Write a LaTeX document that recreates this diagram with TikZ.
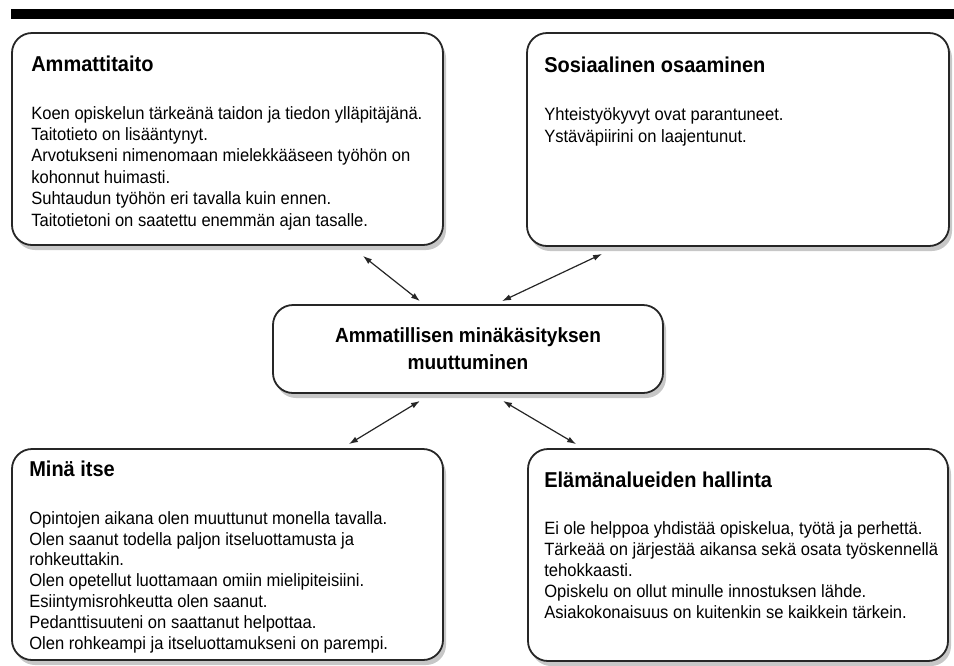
\documentclass[tikz,border=0pt]{standalone}
\usepackage{fontspec}
\setmainfont{Liberation Sans}[FakeStretch=0.93]
\usetikzlibrary{arrows.meta,shadows,positioning,calc}
\colorlet{myline}{black!85}
\colorlet{myshadow}{black!55}
\tikzset{
	frame/.style={
		rectangle, draw=myline, line width=1.8pt,
		rounded corners=20pt, fill=white, inner sep=0pt,
		drop shadow={shadow xshift=3pt, shadow yshift=-5pt, opacity=0.4, fill=myshadow},
	},
	title/.style={
		anchor=base west, inner sep=0pt,
		font=\fontsize{21.5}{26}\selectfont\bfseries,
	},
	% body text is anchored at the baseline of its last line
	body/.style={
		anchor=base west, inner sep=0pt, align=left,
		font=\fontsize{17.8}{21.2}\selectfont,
	},
	link/.style={
		draw=myline, line width=1.2pt,
		{Latex[length=9pt,width=6pt]}-{Latex[length=9pt,width=6pt]},
	}
}

\begin{document}
\begin{tikzpicture}[x=1pt, y=-1pt]
			\useasboundingbox (0,0) rectangle (954,665);
			% Top bar
			\fill[black] (11,9) rectangle (954,19);
			% Frames
			\node [frame, minimum width=431pt, minimum height=212pt] (ammatti) at (227.5,139) {};
			\node [frame, minimum width=422pt, minimum height=213pt] (sosiaali) at (738,139.5) {};
			\node [frame, minimum width=390pt, minimum height=88pt, align=center,
				font=\fontsize{20.5}{27}\selectfont\bfseries] (muutos) at (468,349)
				{Ammatillisen minäkäsityksen\\muuttuminen};
			\node [frame, minimum width=431pt, minimum height=211pt] (mina) at (227.5,554.5) {};
			\node [frame, minimum width=420pt, minimum height=212pt] (elama) at (738,555) {};
			% Texts of the frames
			\node [title] (ammatti-title) at ($(ammatti.north west)+(20,39)$) {Ammattitaito};
			\node [body, font=\fontsize{17.8}{21.4}\selectfont] (ammatti-body) at ($(ammatti.north west)+(20,194)$)
				{Koen opiskelun tärkeänä taidon ja tiedon ylläpitäjänä.\\
				Taitotieto on lisääntynyt.\\
				Arvotukseni nimenomaan mielekkääseen työhön on\\
				kohonnut huimasti.\\
				Suhtaudun työhön eri tavalla kuin ennen.\\
				Taitotietoni on saatettu enemmän ajan tasalle.};
			\node [title] (sosiaali-title) at ($(sosiaali.north west)+(18,40)$) {Sosiaalinen osaaminen};
			\node [body] (sosiaali-body) at ($(sosiaali.north west)+(18,110)$)
				{Yhteistyökyvyt ovat parantuneet.\\
				Ystäväpiirini on laajentunut.};
			\node [title] (mina-title) at ($(mina.north west)+(18,28)$) {Minä itse};
			\node [body, font=\fontsize{17.8}{20.8}\selectfont] (mina-body) at ($(mina.north west)+(18,201)$)
				{Opintojen aikana olen muuttunut monella tavalla.\\
				Olen saanut todella paljon itseluottamusta ja\\
				rohkeuttakin.\\
				Olen opetellut luottamaan omiin mielipiteisiini.\\
				Esiintymisrohkeutta olen saanut.\\
				Pedanttisuuteni on saattanut helpottaa.\\
				Olen rohkeampi ja itseluottamukseni on parempi.};
			\node [title] (elama-title) at ($(elama.north west)+(17,39)$) {Elämänalueiden hallinta};
			\node [body, font=\fontsize{17.8}{21}\selectfont] (elama-body) at ($(elama.north west)+(17,170)$)
				{Ei ole helppoa yhdistää opiskelua, työtä ja perhettä.\\
				Tärkeää on järjestää aikansa sekä osata työskennellä\\
				tehokkaasti.\\
				Opiskelu on ollut minulle innostuksen lähde.\\
				Asiakokonaisuus on kuitenkin se kaikkein tärkein.};
			% Connections
			\draw[link] ([xshift=-81pt, yshift=-10pt]ammatti.south east) -- ([xshift=-48pt, yshift=3pt]muutos.north);
			\draw[link] ([xshift=76pt, yshift=-7pt]sosiaali.south west) -- ([xshift=34pt, yshift=3pt]muutos.north);
			\draw[link] ([xshift=-48pt, yshift=-7pt]muutos.south) -- ([xshift=-95pt, yshift=4pt]mina.north east);
			\draw[link] ([xshift=35pt, yshift=-7pt]muutos.south) -- ([xshift=49pt, yshift=4pt]elama.north west);
\end{tikzpicture}
\end{document}
